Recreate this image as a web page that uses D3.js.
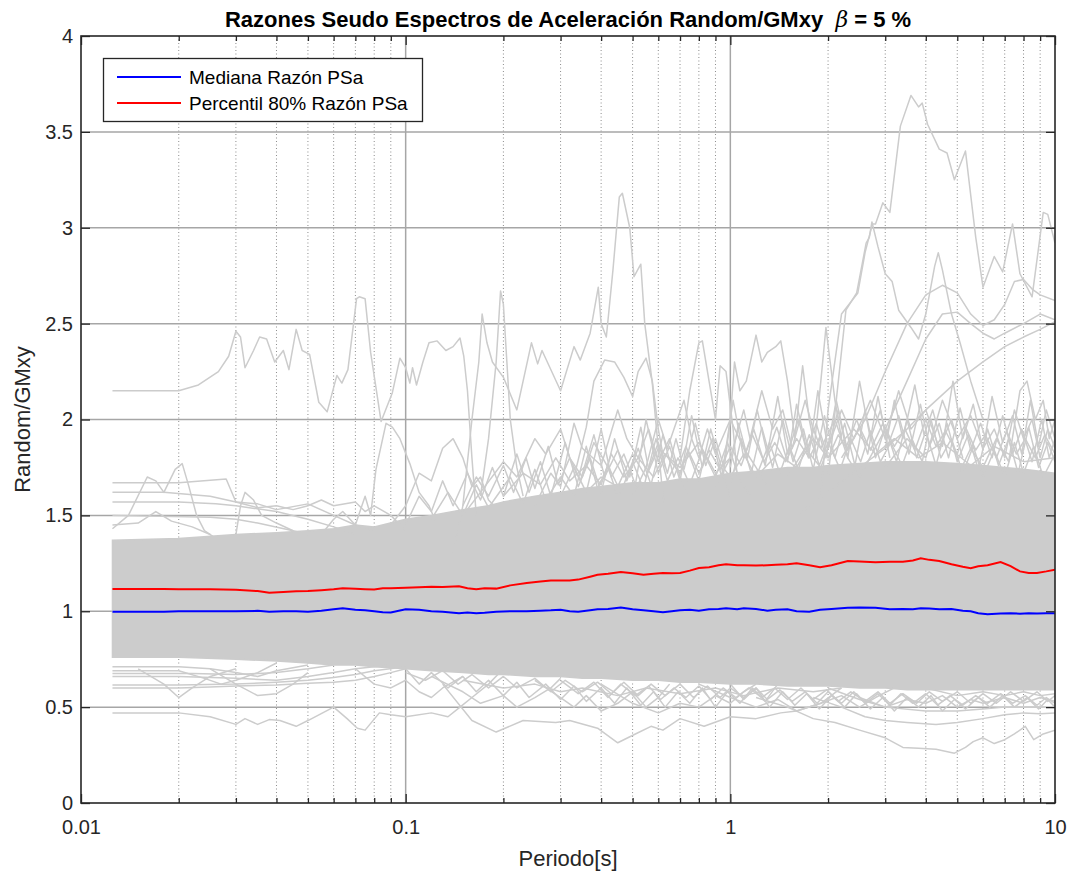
<!DOCTYPE html>
<html>
<head>
<meta charset="utf-8">
<script src="https://cdn.jsdelivr.net/npm/d3@7"></script>
<style>
  html, body { margin: 0; padding: 0; background: #ffffff; }
  svg { display: block; }
  text { font-family: "Liberation Sans", Arial, Helvetica, sans-serif; }
</style>
</head>
<body>
<svg id="chart" width="1072" height="876"></svg>
<script>
// ---------- axis ticks ----------
const xMajorTicks = [0.01, 0.1, 1, 10];
const xTickLabels = ["0.01", "0.1", "1", "10"];
const xMinorTicks = [0.02, 0.03, 0.04, 0.05, 0.06, 0.07, 0.08, 0.09,
                     0.2, 0.3, 0.4, 0.5, 0.6, 0.7, 0.8, 0.9,
                     2, 3, 4, 5, 6, 7, 8, 9];
const yTicks = [0, 0.5, 1, 1.5, 2, 2.5, 3, 3.5, 4];
const yTickLabels = ["0", "0.5", "1", "1.5", "2", "2.5", "3", "3.5", "4"];

// ---------- summary statistics of the ratio ----------
const statPeriods = [0.0125, 0.015, 0.018, 0.02, 0.025, 0.03, 0.035, 0.038, 0.042, 0.046,
  0.05, 0.055, 0.06, 0.064, 0.07, 0.075, 0.08, 0.085, 0.09, 0.1,
  0.11, 0.12, 0.13, 0.146, 0.155, 0.165, 0.175, 0.19, 0.21, 0.236,
  0.26, 0.28, 0.3, 0.32, 0.34, 0.37, 0.39, 0.42, 0.46, 0.5,
  0.54, 0.58, 0.62, 0.66, 0.7, 0.75, 0.8, 0.86, 0.92, 0.97,
  1.05, 1.1, 1.2, 1.3, 1.38, 1.5, 1.6, 1.75, 1.89, 2.05,
  2.3, 2.5, 2.8, 3.1, 3.4, 3.65, 3.86, 4.1, 4.4, 4.8,
  5.2, 5.5, 5.8, 6.2, 6.8, 7.3, 7.8, 8.3, 8.8, 9.4, 10];
const medianRatio = [0.997, 0.997, 0.998, 1.0, 1.0, 1.0, 1.002, 0.998, 1.0, 1.0,
  0.998, 1.002, 1.01, 1.015, 1.008, 1.005, 1.0, 0.995, 0.993, 1.01,
  1.008, 1.0, 0.998, 0.99, 0.993, 0.99, 0.992, 0.998, 1.0, 1.0,
  1.003, 1.005, 1.008, 1.0, 0.997, 1.005, 1.01, 1.012, 1.02, 1.01,
  1.005, 1.0, 0.995, 1.0, 1.005, 1.008, 1.003, 1.01, 1.012, 1.016,
  1.01, 1.015, 1.012, 1.003, 1.008, 1.01, 1.0, 0.997, 1.008, 1.012,
  1.018, 1.02, 1.018, 1.01, 1.012, 1.01, 1.015, 1.014, 1.01, 1.012,
  1.003, 1.0, 0.99, 0.985, 0.988, 0.99, 0.987, 0.99, 0.988, 0.99, 0.99];
const p80Ratio = [1.116, 1.116, 1.116, 1.115, 1.115, 1.112, 1.105, 1.096, 1.1, 1.104,
  1.105, 1.11, 1.115, 1.12, 1.117, 1.115, 1.113, 1.12, 1.12, 1.122,
  1.125, 1.128, 1.127, 1.13, 1.12, 1.115, 1.12, 1.118, 1.135, 1.147,
  1.155, 1.16, 1.16, 1.16, 1.165, 1.18, 1.19, 1.195, 1.205, 1.198,
  1.19, 1.195, 1.2, 1.198, 1.2, 1.212, 1.225, 1.23, 1.24, 1.245,
  1.24, 1.24, 1.238, 1.24, 1.242, 1.245, 1.25, 1.24, 1.23, 1.24,
  1.262, 1.26, 1.255, 1.258, 1.258, 1.265, 1.276, 1.268, 1.262, 1.245,
  1.232, 1.224, 1.235, 1.24, 1.257, 1.235, 1.208, 1.2, 1.2, 1.208, 1.217];

// ---------- dense core of the individual ratio spectra ----------
const bandPeriods = [0.0125, 0.02, 0.03, 0.04, 0.05, 0.06, 0.07, 0.08, 0.1, 0.12, 0.15, 0.18, 0.2, 0.25, 0.3, 0.35,
  0.4, 0.5, 0.6, 0.7, 0.8, 1, 1.2, 1.5, 1.8, 2, 2.5, 3, 3.5, 4, 5, 6, 7, 8, 9, 10];
const bandLow  = [0.76, 0.76, 0.75, 0.74, 0.73, 0.72, 0.72, 0.71, 0.70, 0.69, 0.68, 0.67, 0.67, 0.66, 0.66, 0.65,
  0.65, 0.64, 0.64, 0.63, 0.63, 0.62, 0.62, 0.61, 0.61, 0.61, 0.60, 0.60, 0.59, 0.59, 0.59, 0.59, 0.59, 0.59, 0.59, 0.59];
const bandHigh = [1.37, 1.38, 1.40, 1.41, 1.42, 1.43, 1.45, 1.44, 1.48, 1.50, 1.53, 1.55, 1.57, 1.60, 1.62, 1.64,
  1.65, 1.67, 1.67, 1.69, 1.69, 1.72, 1.73, 1.75, 1.75, 1.76, 1.77, 1.78, 1.78, 1.78, 1.77, 1.76, 1.75, 1.74, 1.73, 1.72];

// ---------- individual records that leave the core ([period, ratio]) ----------
const recHighShort = [[0.0125,2.15],[0.02,2.15],[0.023,2.18],[0.0265,2.25],[0.0285,2.33],[0.03,2.46],[0.031,2.43],
  [0.032,2.27],[0.034,2.36],[0.0355,2.43],[0.0373,2.42],[0.0395,2.30],[0.042,2.36],[0.0437,2.26],[0.046,2.47],
  [0.048,2.36],[0.0506,2.34],[0.054,2.09],[0.0573,2.04],[0.0614,2.23],[0.0636,2.19],[0.0664,2.26],[0.0706,2.63],
  [0.072,2.64],[0.075,2.63],[0.078,2.35],[0.084,1.99],[0.091,2.14],[0.096,2.32],[0.1,2.27],[0.103,2.19],[0.105,2.27],
  [0.108,2.18],[0.113,2.3],[0.118,2.40],[0.125,2.41],[0.133,2.36],[0.14,2.38],[0.147,2.425],[0.151,2.33],
  [0.155,2.15],[0.16,1.8],[0.165,1.5]];
const recPeak045 = [[0.14,1.3],[0.15,1.55],[0.16,2.0],[0.168,2.3],[0.172,2.55],[0.178,2.4],[0.185,2.3],[0.2,2.22],
  [0.22,2.05],[0.244,2.40],[0.255,2.29],[0.263,2.36],[0.3,2.15],[0.33,2.38],[0.345,2.31],[0.37,2.45],[0.392,2.69],
  [0.4,2.5],[0.415,2.43],[0.435,2.78],[0.455,3.16],[0.465,3.18],[0.49,3.0],[0.505,2.745],[0.53,2.81],[0.545,2.5],
  [0.575,2.19],[0.59,1.98],[0.62,1.6],[0.65,1.4]];
const recPeak02 = [[0.17,1.6],[0.18,1.9],[0.19,2.3],[0.196,2.67],[0.2,2.6],[0.205,2.3],[0.21,2.0],[0.22,1.75],[0.23,1.6]];
const recHump04 = [[0.33,1.7],[0.36,1.96],[0.38,2.2],[0.41,2.31],[0.44,2.3],[0.47,2.22],[0.5,2.12],[0.52,2.25],
  [0.55,2.32],[0.575,2.2],[0.6,1.95],[0.63,1.75]];
const recPeak08 = [[0.7,1.8],[0.75,2.15],[0.8,2.4],[0.82,2.41],[0.86,2.2],[0.9,2.0],[0.93,2.28],[0.97,2.25],[1.02,1.95],[1.05,1.7]];
const recPeak12 = [[0.95,1.7],[1.0,2.0],[1.03,2.3],[1.07,2.15],[1.12,2.2],[1.2,2.44],[1.25,2.3],[1.3,2.35],[1.38,2.38],
  [1.43,2.41],[1.5,2.2],[1.58,1.9],[1.67,2.28],[1.75,2.0],[1.85,1.8]];
const recPeak2 = [[1.8,1.8],[1.9,2.2],[1.97,2.48],[2.03,2.3],[2.1,2.1],[2.2,1.9]];
const recPeak36 = [[1.9,1.6],[2.0,2.05],[2.2,2.55],[2.47,2.66],[2.6,2.87],[2.74,3.02],[2.8,3.02],[2.95,3.13],[3.1,3.08],
  [3.34,3.53],[3.6,3.69],[3.8,3.63],[3.9,3.65],[4.05,3.54],[4.4,3.41],[4.65,3.39],[4.9,3.25],[5.3,3.40],[5.7,2.95],
  [6.0,2.69],[6.5,2.85],[6.9,2.77],[7.4,3.02],[7.8,2.76],[8.5,2.64],[9.2,3.08],[9.5,3.07],[10,2.92]];
const recPeak27 = [[2.0,1.7],[2.27,2.57],[2.45,2.66],[2.62,2.92],[2.68,2.95],[2.73,3.03],[2.85,2.9],[3.0,2.76],[3.15,2.72],
  [3.3,2.57],[3.6,2.48],[3.8,2.42],[4.0,2.55],[4.26,2.80],[4.37,2.87],[4.5,2.78],[4.8,2.55],[5.1,2.4],[5.5,2.2],[6,2.0]];
const recHump5 = [[2.2,1.8],[2.6,2.0],[3.0,2.25],[3.5,2.5],[4.0,2.65],[4.5,2.7],[5.0,2.66],[5.5,2.55],[6.0,2.49],
  [6.5,2.52],[7.0,2.6],[7.5,2.72],[8.0,2.73],[8.5,2.68],[9,2.65],[10,2.62]];
const recHump5b = [[2.5,1.7],[3.0,1.95],[3.5,2.2],[4.0,2.42],[4.5,2.55],[5.0,2.56],[5.5,2.5],[6.0,2.45],[6.5,2.42],
  [7,2.45],[8,2.5],[9,2.55],[10,2.52]];
const recRiseLong = [[1.6,1.5],[2.0,1.62],[2.5,1.75],[3,1.85],[3.5,1.95],[4,2.05],[5,2.2],[6,2.3],[7,2.38],[8,2.43],[9,2.47],[10,2.51]];
const recUp1 = [[0.0125,1.67],[0.02,1.67],[0.028,1.69],[0.03,1.57],[0.035,1.56],[0.04,1.53],[0.05,1.56],[0.06,1.5],[0.07,1.45],[0.08,1.42]];
const recUp2 = [[0.0125,1.62],[0.018,1.62],[0.025,1.60],[0.03,1.57],[0.035,1.54],[0.04,1.55],[0.045,1.53],[0.05,1.55],
  [0.055,1.58],[0.06,1.55],[0.07,1.57],[0.075,1.52],[0.08,1.55],[0.09,1.50],[0.1,1.42]];
const recUp3 = [[0.0125,1.57],[0.02,1.57],[0.026,1.56],[0.03,1.55],[0.04,1.52],[0.05,1.48],[0.06,1.44],[0.07,1.4]];
const recUp4 = [[0.0125,1.50],[0.025,1.49],[0.03,1.48],[0.035,1.46],[0.045,1.42],[0.05,1.4]];
const recUp5 = [[0.0125,1.43],[0.014,1.5],[0.016,1.70],[0.017,1.68],[0.018,1.62],[0.0195,1.74],[0.0205,1.77],
  [0.0215,1.65],[0.0227,1.5],[0.024,1.42],[0.026,1.38]];
const recUp6 = [[0.0125,1.45],[0.015,1.46],[0.017,1.52],[0.019,1.47],[0.022,1.44],[0.025,1.4]];
const recUp7 = [[0.03,1.40],[0.031,1.55],[0.032,1.62],[0.034,1.58],[0.036,1.5],[0.04,1.46],[0.045,1.42]];
const recUp8 = [[0.055,1.4],[0.06,1.48],[0.064,1.52],[0.07,1.45],[0.075,1.6],[0.078,1.5],[0.081,1.74],[0.087,1.98],
  [0.091,1.96],[0.096,1.9],[0.103,1.77],[0.11,1.62],[0.118,1.55],[0.125,1.45]];
const recUp9 = [[0.09,1.45],[0.1,1.55],[0.11,1.72],[0.12,1.68],[0.13,1.85],[0.14,1.9],[0.15,1.8],[0.16,1.65],[0.17,1.7],[0.18,1.58],[0.2,1.5]];
const recUp10 = [[0.15,1.5],[0.17,1.62],[0.2,1.78],[0.22,1.7],[0.25,1.9],[0.27,1.82],[0.3,1.95],[0.32,1.8],[0.35,1.7],
  [0.38,1.88],[0.42,1.75],[0.45,1.6]];
const recUp11 = [[0.25,1.55],[0.28,1.72],[0.3,1.65],[0.33,1.98],[0.35,1.85],[0.4,1.76],[0.45,2.05],[0.48,1.9],[0.52,1.8],
  [0.56,1.95],[0.6,1.78],[0.65,1.9],[0.7,1.7],[0.75,1.6]];
const recUp12 = [[0.5,1.6],[0.55,1.75],[0.6,2.0],[0.64,1.85],[0.68,1.98],[0.72,2.1],[0.76,1.9],[0.8,1.8],[0.85,1.95],
  [0.9,1.82],[1.0,2.0],[1.1,1.85],[1.2,1.75],[1.3,1.65]];
const recUp13 = [[0.9,1.65],[1.0,1.8],[1.1,2.05],[1.15,1.9],[1.25,2.15],[1.35,1.95],[1.45,2.05],[1.55,1.85],[1.7,2.1],
  [1.8,1.95],[1.9,1.85],[2.1,2.0],[2.3,1.8],[2.5,1.7]];
const recUp14 = [[1.5,1.7],[1.7,1.85],[1.9,1.75],[2.2,2.05],[2.4,1.9],[2.7,2.1],[3,1.9],[3.3,2.15],[3.6,1.95],[4,2.05],
  [4.4,1.85],[4.8,2.0],[5.2,1.8]];
const recUp15 = [[3,1.75],[3.5,1.9],[4,1.8],[4.5,2.1],[5,1.9],[5.5,2.02],[6,1.85],[6.5,1.95],[7,1.8],[7.5,2.05],[8,1.9],
  [8.5,2.0],[9,1.8],[9.5,1.95],[10,1.85]];
const recUp16 = [[5,1.7],[5.5,1.85],[6,1.75],[6.6,1.9],[7.2,1.78],[7.8,2.15],[8.2,2.2],[8.7,2.0],[9.2,2.1],[9.6,1.9],[10,2.0]];
const recUp17 = [[0.35,1.6],[0.4,1.7],[0.45,1.65],[0.5,1.82],[0.55,1.7],[0.6,1.85],[0.7,1.75],[0.8,1.88],[0.9,1.72],[1,1.8]];
const recUp18 = [[1.2,1.7],[1.4,1.82],[1.6,1.75],[1.8,1.9],[2,1.8],[2.4,1.95],[2.8,1.82],[3.2,1.9],[3.8,1.8],[4.5,1.88],
  [5.5,1.76],[6.5,1.86],[8,1.78],[10,1.8]];
const recJag1 = [[0.1,1.45],[0.11,1.6],[0.12,1.52],[0.13,1.68],[0.14,1.55],[0.155,1.72],[0.17,1.58],[0.185,1.75],[0.2,1.6],
  [0.22,1.82],[0.24,1.62],[0.26,1.78],[0.28,1.6],[0.31,1.88],[0.34,1.65],[0.37,1.8],[0.4,1.62],[0.44,1.9],[0.48,1.68],
  [0.52,1.85],[0.57,1.66],[0.62,1.92],[0.67,1.7],[0.73,1.86],[0.8,1.68],[0.87,1.95],[0.95,1.72],[1.0,1.6]];
const recJag2 = [[0.12,1.48],[0.135,1.62],[0.15,1.5],[0.165,1.66],[0.18,1.54],[0.21,1.7],[0.23,1.56],[0.25,1.74],[0.27,1.58],
  [0.3,1.7],[0.33,1.6],[0.36,1.86],[0.39,1.64],[0.42,1.76],[0.46,1.62],[0.5,1.78],[0.54,1.64],[0.59,1.9],[0.64,1.68],
  [0.69,1.8],[0.75,1.66],[0.82,1.84],[0.9,1.7],[0.98,1.88],[1.06,1.7],[1.15,1.6]];
const recJag3 = [[1.0,1.65],[1.08,1.9],[1.16,1.72],[1.25,1.96],[1.35,1.75],[1.45,2.0],[1.56,1.78],[1.68,1.95],[1.8,1.74],
  [1.95,2.02],[2.1,1.8],[2.25,1.98],[2.42,1.76],[2.6,2.05],[2.8,1.8],[3.0,1.96],[3.25,1.78],[3.5,2.0],[3.75,1.8],[4.0,1.94],
  [4.3,1.76],[4.65,1.98],[5.0,1.78],[5.4,1.92],[5.8,1.74],[6.2,1.95],[6.7,1.76],[7.2,1.9],[7.7,1.72],[8.3,1.96],[8.9,1.75],
  [9.5,1.88],[10,1.78]];
const recJag4 = [[1.0,1.7],[1.1,1.82],[1.2,1.7],[1.32,1.88],[1.42,1.72],[1.52,1.86],[1.62,1.74],[1.75,1.92],[1.88,1.76],
  [2.0,1.88],[2.18,1.74],[2.35,1.9],[2.52,1.78],[2.7,1.94],[2.9,1.78],[3.12,1.88],[3.38,1.76],[3.62,1.9],[3.9,1.78],
  [4.15,2.0],[4.45,1.8],[4.8,1.9],[5.2,1.72],[5.6,1.86],[6.0,1.7],[6.5,1.84],[7.0,1.7],[7.5,1.88],[8.0,1.72],[8.6,1.86],
  [9.2,1.7],[10,1.82]];
const recJag5 = [[0.3,1.6],[0.33,1.75],[0.36,1.62],[0.4,1.95],[0.43,1.7],[0.47,1.82],[0.51,1.66],[0.55,2.0],[0.6,1.72],
  [0.65,1.86],[0.7,1.68],[0.76,2.02],[0.82,1.75],[0.88,1.9],[0.94,1.7],[1.02,2.1],[1.1,1.8],[1.18,1.95],[1.28,1.76],
  [1.4,2.12],[1.5,1.82],[1.62,2.0],[1.74,1.8],[1.86,2.15],[2.0,1.85],[2.15,2.05],[2.3,1.8],[2.5,2.2],[2.7,1.9],[2.9,2.05],[3.1,1.8]];
const recJag6 = [[3.0,1.85],[3.2,2.1],[3.4,1.9],[3.7,2.18],[3.95,1.92],[4.2,2.05],[4.5,1.86],[4.85,2.2],[5.2,1.9],[5.6,2.08],
  [6.0,1.84],[6.4,2.12],[6.9,1.88],[7.4,2.02],[7.9,1.82],[8.4,2.1],[8.9,1.86],[9.4,2.05],[10,1.9]];
const recJag7 = [[0.15,1.55],[0.165,1.7],[0.18,1.6],[0.2,1.76],[0.215,1.62],[0.235,1.8],[0.25,1.64],[0.275,1.86],[0.295,1.66],
  [0.32,1.8],[0.345,1.68],[0.38,1.92],[0.41,1.7],[0.45,1.84],[0.49,1.7],[0.53,1.96],[0.56,1.74],[0.6,1.88],[0.64,1.72],
  [0.68,1.9],[0.72,1.74],[0.78,1.98],[0.84,1.76],[0.9,1.9],[0.96,1.74],[1.0,1.7]];
const recJag8 = [[1.0,1.75],[1.06,1.98],[1.13,1.8],[1.21,2.05],[1.3,1.82],[1.39,1.96],[1.5,1.78],[1.6,2.08],[1.72,1.84],
  [1.84,1.98],[1.97,1.8],[2.12,2.1],[2.28,1.86],[2.45,2.0],[2.65,1.82],[2.85,2.12],[3.05,1.86],[3.3,2.02],[3.55,1.82],
  [3.85,2.08],[4.1,1.86],[4.4,1.98],[4.7,1.8],[5.1,2.06],[5.5,1.84],[5.9,1.98],[6.4,1.8],[6.9,2.02],[7.4,1.82],[7.9,1.95],
  [8.5,1.78],[9.1,2.0],[9.6,1.8],[10,1.9]];
const recJag9 = [[0.2,1.6],[0.23,1.72],[0.26,1.66],[0.29,1.8],[0.32,1.68],[0.36,1.76],[0.4,1.66],[0.43,1.82],[0.47,1.7],
  [0.52,1.8],[0.58,1.7],[0.63,1.82],[0.7,1.72],[0.74,1.84],[0.8,1.72],[0.86,1.84],[0.93,1.74],[1.0,1.86],[1.08,1.76],
  [1.17,1.92],[1.27,1.78],[1.37,1.88],[1.48,1.78],[1.6,1.9],[1.75,1.8],[1.9,1.92],[2.0,1.8]];
const recJag10 = [[2.0,1.8],[2.15,1.92],[2.3,1.84],[2.5,1.96],[2.7,1.84],[2.95,1.98],[3.2,1.86],[3.45,1.95],[3.7,1.84],
  [4.0,2.0],[4.3,1.86],[4.6,1.94],[5.0,1.82],[5.3,1.96],[5.7,1.84],[6.1,1.92],[6.6,1.8],[7.1,1.94],[7.6,1.82],[8.1,1.9],
  [8.7,1.8],[9.3,1.92],[10,1.82]];
const recLowShort = [[0.0125,0.47],[0.02,0.47],[0.025,0.45],[0.03,0.41],[0.032,0.44],[0.035,0.41],[0.038,0.435],[0.041,0.43],
  [0.046,0.40],[0.05,0.43],[0.06,0.50],[0.066,0.44],[0.071,0.39],[0.075,0.38],[0.083,0.47],[0.09,0.46],[0.1,0.45],
  [0.12,0.47],[0.135,0.45],[0.147,0.5],[0.16,0.55],[0.18,0.62],[0.2,0.7]];
const recLowMid = [[0.13,0.62],[0.16,0.43],[0.19,0.37],[0.23,0.43],[0.29,0.42],[0.32,0.43],[0.39,0.39],[0.45,0.314],
  [0.51,0.36],[0.57,0.40],[0.62,0.38],[0.70,0.44],[0.83,0.40],[1.0,0.45],[1.2,0.44],[1.43,0.47],[1.6,0.48],[1.9,0.52],[2.2,0.6]];
const recLowLong = [[1.2,0.55],[1.5,0.5],[1.8,0.44],[2.1,0.42],[2.5,0.38],[3.0,0.34],[3.4,0.29],[3.8,0.285],[4.3,0.28],
  [4.9,0.26],[5.3,0.29],[5.6,0.32],[6.0,0.34],[6.5,0.31],[7.0,0.33],[7.5,0.36],[8.1,0.4],[8.6,0.33],[9.2,0.36],[10,0.38]];
const recLowLong2 = [[1.8,0.55],[2.2,0.5],[2.6,0.45],[3.0,0.43],[3.5,0.42],[4.3,0.41],[5.0,0.42],[6.0,0.44],[7.0,0.46],
  [8.0,0.47],[9,0.465],[10,0.47]];
const recLowLong3 = [[2.5,0.55],[3,0.5],[4,0.48],[5,0.48],[6,0.49],[7,0.5],[8,0.5],[10,0.5]];
const recDn1 = [[0.0125,0.71],[0.02,0.71],[0.025,0.70],[0.03,0.68],[0.035,0.66],[0.04,0.69],[0.05,0.72]];
const recDn2 = [[0.0125,0.69],[0.02,0.69],[0.024,0.65],[0.027,0.62],[0.03,0.64],[0.035,0.68],[0.04,0.73]];
const recDn3 = [[0.0125,0.675],[0.022,0.675],[0.03,0.67],[0.04,0.68],[0.05,0.7],[0.06,0.72]];
const recDn4 = [[0.0125,0.66],[0.02,0.66],[0.03,0.65],[0.04,0.64],[0.05,0.66],[0.06,0.68],[0.07,0.7],[0.09,0.72]];
const recDn5 = [[0.0125,0.615],[0.02,0.615],[0.03,0.62],[0.04,0.63],[0.05,0.64],[0.06,0.655],[0.07,0.67],[0.08,0.69],[0.1,0.71]];
const recDn6 = [[0.0125,0.60],[0.02,0.60],[0.025,0.605],[0.03,0.61],[0.04,0.615],[0.05,0.625],[0.06,0.63],[0.07,0.64],
  [0.08,0.66],[0.09,0.68],[0.1,0.7]];
const recDn7 = [[0.015,0.7],[0.018,0.62],[0.02,0.55],[0.022,0.6],[0.025,0.66],[0.03,0.7]];
const recDn8 = [[0.025,0.7],[0.03,0.62],[0.035,0.56],[0.04,0.57],[0.045,0.62],[0.05,0.68]];
const recDn9 = [[0.07,0.7],[0.08,0.62],[0.09,0.6],[0.1,0.64],[0.11,0.58],[0.12,0.55],[0.13,0.6],[0.15,0.66]];
const recDn10 = [[0.12,0.66],[0.15,0.58],[0.17,0.52],[0.2,0.56],[0.22,0.5],[0.25,0.55],[0.28,0.6],[0.3,0.65]];
const recDn11 = [[0.25,0.64],[0.3,0.55],[0.33,0.5],[0.36,0.56],[0.4,0.48],[0.45,0.52],[0.5,0.58],[0.55,0.5],[0.6,0.55],[0.65,0.62]];
const recDn12 = [[0.4,0.62],[0.5,0.52],[0.6,0.47],[0.7,0.52],[0.8,0.5],[0.9,0.56],[1,0.52],[1.1,0.58],[1.2,0.62]];
const recDn13 = [[0.8,0.62],[1,0.55],[1.2,0.5],[1.4,0.54],[1.6,0.48],[1.9,0.52],[2.2,0.56],[2.5,0.5],[2.8,0.55],[3.2,0.6]];
const recDn14 = [[2,0.6],[2.5,0.54],[3,0.5],[3.5,0.54],[4,0.52],[4.5,0.56],[5,0.5],[5.5,0.54],[6,0.52],[7,0.55],[8,0.52],[9,0.55],[10,0.53]];
const recDn15 = [[4,0.6],[5,0.56],[6,0.58],[7,0.56],[8,0.58],[9,0.56],[10,0.57]];
const recDn16 = [[0.15,0.64],[0.2,0.6],[0.25,0.62],[0.3,0.58],[0.35,0.6],[0.45,0.56],[0.55,0.6],[0.7,0.57],[0.9,0.6],
  [1.1,0.56],[1.4,0.6],[1.8,0.58],[2.2,0.6]];
const recDnJag1 = [[0.1,0.7],[0.11,0.62],[0.12,0.68],[0.135,0.6],[0.15,0.66],[0.165,0.58],[0.18,0.64],[0.2,0.56],[0.22,0.63],
  [0.24,0.55],[0.27,0.62],[0.3,0.54],[0.33,0.61],[0.36,0.53],[0.4,0.6],[0.44,0.52],[0.48,0.6],[0.53,0.51],[0.58,0.58],
  [0.63,0.5],[0.69,0.58],[0.75,0.52],[0.82,0.6],[0.9,0.5],[0.98,0.58],[1.07,0.52],[1.17,0.6],[1.28,0.53],[1.4,0.62]];
const recDnJag2 = [[1.0,0.62],[1.1,0.54],[1.2,0.6],[1.32,0.5],[1.45,0.58],[1.58,0.51],[1.72,0.57],[1.88,0.49],[2.05,0.56],
  [2.25,0.5],[2.45,0.57],[2.7,0.49],[2.95,0.55],[3.2,0.48],[3.5,0.55],[3.8,0.5],[4.15,0.56],[4.5,0.48],[4.9,0.54],[5.3,0.49],
  [5.8,0.55],[6.3,0.5],[6.9,0.56],[7.5,0.5],[8.2,0.55],[8.9,0.49],[9.5,0.54],[10,0.5]];
const recDnJag3 = [[0.3,0.64],[0.34,0.57],[0.38,0.63],[0.42,0.55],[0.46,0.62],[0.51,0.56],[0.56,0.61],[0.61,0.54],[0.67,0.6],
  [0.73,0.55],[0.8,0.61],[0.87,0.54],[0.95,0.6],[1.04,0.55],[1.14,0.6],[1.25,0.55],[1.37,0.6],[1.5,0.54],[1.65,0.6],
  [1.8,0.54],[1.98,0.59],[2.15,0.53],[2.35,0.58],[2.6,0.53],[2.85,0.58],[3.1,0.52],[3.4,0.57],[3.75,0.52],[4.1,0.58],
  [4.5,0.53],[5.0,0.58],[5.5,0.52],[6.0,0.57],[6.6,0.52],[7.3,0.58],[8.0,0.53],[8.8,0.58],[9.5,0.53],[10,0.56]];
const recDnJag4 = [[0.1,0.68],[0.115,0.64],[0.13,0.69],[0.145,0.62],[0.16,0.67],[0.18,0.6],[0.2,0.66],[0.22,0.6],[0.25,0.65],
  [0.28,0.58],[0.31,0.64],[0.35,0.58],[0.39,0.63],[0.43,0.57],[0.47,0.63],[0.52,0.56],[0.57,0.62],[0.63,0.56],[0.7,0.62],
  [0.77,0.55],[0.85,0.61],[0.93,0.55],[1.0,0.6]];
const recDnJag5 = [[1.0,0.6],[1.1,0.55],[1.2,0.6],[1.3,0.54],[1.42,0.59],[1.55,0.53],[1.7,0.58],[1.85,0.52],[2.0,0.58],
  [2.2,0.52],[2.4,0.58],[2.6,0.52],[2.85,0.57],[3.1,0.51],[3.35,0.57],[3.65,0.52],[4.0,0.57],[4.35,0.51],[4.75,0.56],
  [5.2,0.51],[5.7,0.56],[6.2,0.52],[6.8,0.57],[7.4,0.52],[8.1,0.56],[8.8,0.51],[9.4,0.55],[10,0.52]];

const grayRecords = [recHighShort, recPeak045, recPeak02, recHump04, recPeak08, recPeak12, recPeak2, recPeak36,
  recPeak27, recHump5, recHump5b, recRiseLong,
  recUp1, recUp2, recUp3, recUp4, recUp5, recUp6, recUp7, recUp8, recUp9, recUp10, recUp11, recUp12, recUp13,
  recUp14, recUp15, recUp16, recUp17, recUp18,
  recJag1, recJag2, recJag3, recJag4, recJag5, recJag6, recJag7, recJag8, recJag9, recJag10,
  recLowShort, recLowMid, recLowLong, recLowLong2, recLowLong3,
  recDn1, recDn2, recDn3, recDn4, recDn5, recDn6, recDn7, recDn8, recDn9, recDn10, recDn11, recDn12, recDn13,
  recDn14, recDn15, recDn16, recDnJag1, recDnJag2, recDnJag3, recDnJag4, recDnJag5];

const legendItems = [
  { label: "Mediana Razón PSa", color: "#0000ff" },
  { label: "Percentil 80% Razón PSa", color: "#ff0000" }
];

// ---------- layout ----------
const plot = { left: 81, right: 1055, top: 36, bottom: 803 };
const axisColor = "#262626";
const grayColor = "#cccccc";

const svg = d3.select("#chart");
const x = d3.scaleLog().domain([0.01, 10]).range([plot.left, plot.right]);
const y = d3.scaleLinear().domain([0, 4]).range([plot.bottom, plot.top]);

svg.append("defs").append("clipPath").attr("id", "plotClip")
  .append("rect").attr("x", plot.left).attr("y", plot.top)
  .attr("width", plot.right - plot.left).attr("height", plot.bottom - plot.top);

// grid
const grid = svg.append("g");
grid.selectAll("line.minor").data(xMinorTicks).join("line")
  .attr("x1", d => x(d)).attr("x2", d => x(d))
  .attr("y1", plot.top).attr("y2", plot.bottom)
  .attr("stroke", "#8c8c8c").attr("stroke-width", 1).attr("stroke-dasharray", "1,2.5");
grid.selectAll("line.vmajor").data(xMajorTicks.slice(1, -1)).join("line")
  .attr("x1", d => x(d)).attr("x2", d => x(d))
  .attr("y1", plot.top).attr("y2", plot.bottom)
  .attr("stroke", "#a6a6a6").attr("stroke-width", 1.5);
grid.selectAll("line.hmajor").data(yTicks.slice(1, -1)).join("line")
  .attr("x1", plot.left).attr("x2", plot.right)
  .attr("y1", d => y(d)).attr("y2", d => y(d))
  .attr("stroke", "#a6a6a6").attr("stroke-width", 1.5);

// data
const data = svg.append("g").attr("clip-path", "url(#plotClip)");

const band = bandPeriods.map((t, i) => ({ t, lo: bandLow[i], hi: bandHigh[i] }));
data.append("path").datum(band)
  .attr("d", d3.area().x(d => x(d.t)).y0(d => y(d.lo)).y1(d => y(d.hi)))
  .attr("fill", grayColor).attr("stroke", grayColor).attr("stroke-width", 1.5);

const recLine = d3.line().x(d => x(d[0])).y(d => y(d[1]));
data.selectAll("path.rec").data(grayRecords).join("path")
  .attr("class", "rec")
  .attr("d", recLine)
  .attr("fill", "none").attr("stroke", grayColor).attr("stroke-width", 1.5)
  .attr("stroke-linejoin", "round");

const statLine = d3.line().x(d => x(d[0])).y(d => y(d[1]));
data.append("path").datum(statPeriods.map((t, i) => [t, medianRatio[i]]))
  .attr("d", statLine).attr("fill", "none").attr("stroke", "#0000ff").attr("stroke-width", 2);
data.append("path").datum(statPeriods.map((t, i) => [t, p80Ratio[i]]))
  .attr("d", statLine).attr("fill", "none").attr("stroke", "#ff0000").attr("stroke-width", 2);

// axes
const fmtX = d => xTickLabels[xMajorTicks.indexOf(d)];
const fmtY = d => yTickLabels[yTicks.indexOf(d)];

function styleAxis(g) {
  g.select(".domain").remove();
  g.selectAll(".tick line").attr("stroke", axisColor).attr("stroke-width", 1.3);
  g.selectAll(".tick text").attr("fill", axisColor).attr("font-size", 20)
    .attr("font-family", "'Liberation Sans', Arial, Helvetica, sans-serif");
}

svg.append("g").attr("transform", `translate(0,${plot.bottom})`)
  .call(d3.axisBottom(x).tickValues(xMajorTicks).tickFormat(fmtX).tickSize(-9).tickPadding(17))
  .call(styleAxis);
svg.append("g").attr("transform", `translate(0,${plot.bottom})`)
  .call(d3.axisBottom(x).tickValues(xMinorTicks).tickFormat("").tickSize(-5))
  .call(styleAxis);
svg.append("g").attr("transform", `translate(0,${plot.top})`)
  .call(d3.axisTop(x).tickValues(xMajorTicks).tickFormat("").tickSize(-9))
  .call(styleAxis);
svg.append("g").attr("transform", `translate(0,${plot.top})`)
  .call(d3.axisTop(x).tickValues(xMinorTicks).tickFormat("").tickSize(-5))
  .call(styleAxis);
svg.append("g").attr("transform", `translate(${plot.left},0)`)
  .call(d3.axisLeft(y).tickValues(yTicks).tickFormat(fmtY).tickSize(-9).tickPadding(8))
  .call(styleAxis);
svg.append("g").attr("transform", `translate(${plot.right},0)`)
  .call(d3.axisRight(y).tickValues(yTicks).tickFormat("").tickSize(-9))
  .call(styleAxis);

svg.append("rect")
  .attr("x", plot.left).attr("y", plot.top)
  .attr("width", plot.right - plot.left).attr("height", plot.bottom - plot.top)
  .attr("fill", "none").attr("stroke", axisColor).attr("stroke-width", 1.6);

// titles
const title = svg.append("text")
  .attr("x", (plot.left + plot.right) / 2).attr("y", 27)
  .attr("text-anchor", "middle").attr("font-size", 22).attr("font-weight", "bold").attr("fill", "#000");
title.append("tspan").text("Razones Seudo Espectros de Aceleración Random/GMxy\u00a0\u00a0");
title.append("tspan").attr("font-style", "italic").attr("font-weight", "normal")
  .attr("font-family", "'DejaVu Serif', serif").text("β");
title.append("tspan").text(" = 5 %");

svg.append("text")
  .attr("x", (plot.left + plot.right) / 2).attr("y", 866)
  .attr("text-anchor", "middle").attr("font-size", 22).attr("fill", axisColor)
  .text("Periodo[s]");

svg.append("text")
  .attr("transform", `translate(30,${(plot.top + plot.bottom) / 2}) rotate(-90)`)
  .attr("text-anchor", "middle").attr("font-size", 22).attr("fill", axisColor)
  .text("Random/GMxy");

// legend
const legend = svg.append("g");
legend.append("rect")
  .attr("x", 103.5).attr("y", 58.5).attr("width", 319).attr("height", 63)
  .attr("fill", "#ffffff").attr("stroke", axisColor).attr("stroke-width", 1.3);
const items = legend.selectAll("g.item").data(legendItems).join("g")
  .attr("transform", (d, i) => `translate(0,${77 + i * 26})`);
items.append("line").attr("x1", 117).attr("x2", 181).attr("y1", 0).attr("y2", 0)
  .attr("stroke", d => d.color).attr("stroke-width", 2);
items.append("text").attr("x", 189).attr("y", 0).attr("dy", "0.36em")
  .attr("font-size", 19).attr("fill", "#000").text(d => d.label);
</script>
</body>
</html>
